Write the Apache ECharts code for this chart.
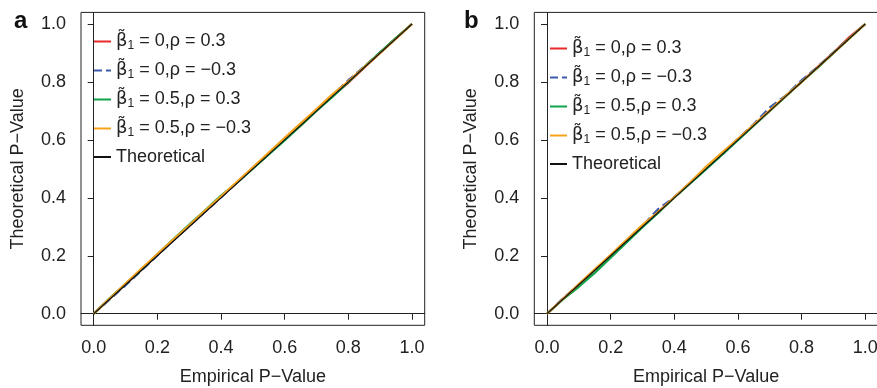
<!DOCTYPE html>
<html>
<head>
<meta charset="utf-8">
<script src="https://cdn.jsdelivr.net/npm/echarts@6/dist/echarts.min.js"></script>
<style>html,body{margin:0;padding:0;background:#fff;}#c{width:877px;height:388px;}</style>
</head>
<body>
<div id="c"></div>
<script>
// ---- data ----
var empiricalP = [0,0.05,0.10,0.15,0.20,0.25,0.30,0.35,0.40,0.45,0.50,0.55,0.60,0.65,0.70,0.75,0.80,0.85,0.90,0.95,1.00];
var tickValues = [0,0.2,0.4,0.6,0.8,1.0];
var panelLabels = ['a','b'];
var seriesNames = ['b0_p3','b0_m3','b5_p3','b5_m3','Theoretical'];
var legendLabels = ['{b|β̃}{s|1} = 0,ρ = 0.3','{b|β̃}{s|1} = 0,ρ = −0.3','{b|β̃}{s|1} = 0.5,ρ = 0.3','{b|β̃}{s|1} = 0.5,ρ = −0.3','Theoretical'];
// panel a
var a_b0_p3 = [0,0.052,0.101,0.152,0.203,0.254,0.303,0.353,0.404,0.452,0.502,0.551,0.603,0.649,0.701,0.752,0.797,0.849,0.901,0.951,1];
var a_b0_m3 = [0,0.049,0.098,0.149,0.201,0.253,0.302,0.352,0.401,0.453,0.503,0.552,0.602,0.651,0.702,0.754,0.806,0.853,0.902,0.950,1];
var a_b5_p3 = [0,0.053,0.103,0.152,0.205,0.257,0.308,0.357,0.408,0.452,0.501,0.550,0.598,0.649,0.700,0.748,0.799,0.852,0.902,0.952,1];
var a_b5_m3 = [0,0.052,0.104,0.156,0.206,0.256,0.305,0.356,0.405,0.455,0.505,0.556,0.607,0.657,0.706,0.757,0.802,0.851,0.899,0.949,1];
// panel b
var b_b0_p3 = [0,0.051,0.101,0.151,0.201,0.252,0.302,0.352,0.402,0.451,0.501,0.551,0.602,0.651,0.701,0.751,0.801,0.851,0.901,0.955,1];
var b_b0_m3 = [0,0.053,0.101,0.148,0.199,0.248,0.303,0.362,0.402,0.452,0.503,0.548,0.604,0.655,0.712,0.753,0.806,0.852,0.902,0.951,1];
var b_b5_p3 = [0,0.049,0.093,0.141,0.193,0.246,0.299,0.349,0.401,0.450,0.499,0.549,0.599,0.650,0.700,0.750,0.800,0.848,0.899,0.950,1];
var b_b5_m3 = [0,0.051,0.102,0.153,0.203,0.255,0.307,0.352,0.402,0.454,0.508,0.556,0.604,0.653,0.702,0.752,0.800,0.850,0.900,0.950,1];
var theoretical = [0,0.05,0.10,0.15,0.20,0.25,0.30,0.35,0.40,0.45,0.50,0.55,0.60,0.65,0.70,0.75,0.80,0.85,0.90,0.95,1.00];

var colors = ['#e8292b','#3b5bab','#0fa34a','#f7a21c','#111111'];
var widths = [2.2,2.2,2.2,2.2,1.2];
var types = ['solid','dashed','solid','solid','solid'];

var panelData = [
  [a_b0_p3,a_b0_m3,a_b5_p3,a_b5_m3,theoretical],
  [b_b0_p3,b_b0_m3,b_b5_p3,b_b5_m3,theoretical]
];

var FONT = '"Liberation Sans", Arial, "DejaVu Sans", sans-serif';
var TXT = '#222';
var FS = 18;

function pairs(xs, ys){ return xs.map(function(x,i){ return [x, ys[i]]; }); }

var gridLefts = [81, 534.3];
var grids = [], xAxes = [], yAxes = [], series = [], legends = [], titles = [];
var labelMap = {};
seriesNames.forEach(function(n,i){ labelMap[n] = legendLabels[i]; });

for (var p = 0; p < 2; p++) {
  grids.push({left: gridLefts[p], top: 12.4, width: 343.7, height: 312.9, show: true, borderColor: '#222', borderWidth: 1, backgroundColor: 'transparent', containLabel: false, outerBoundsMode: 'none'});
  xAxes.push({
    type: 'value', gridIndex: p, min: -0.04, max: 1.04,
    name: 'Empirical P\u2212Value', nameLocation: 'middle', nameGap: 43,
    nameTextStyle: {fontFamily: FONT, fontSize: FS, color: TXT},
    axisLine: {show: true, lineStyle: {color: '#222', width: 1}},
    axisTick: {show: true, length: 6, inside: false, customValues: tickValues, lineStyle: {color: '#222'}},
    axisLabel: {customValues: tickValues, margin: 14, fontFamily: FONT, fontSize: FS, color: TXT,
      formatter: function(v){ return v.toFixed(1); }},
    splitLine: {show: false}
  });
  yAxes.push({
    type: 'value', gridIndex: p, min: -0.04, max: 1.04,
    name: 'Theoretical P\u2212Value', nameLocation: 'middle', nameGap: 54,
    nameTextStyle: {fontFamily: FONT, fontSize: FS, color: TXT},
    axisLine: {show: true, lineStyle: {color: '#222', width: 1}},
    axisTick: {show: true, length: 6, inside: false, customValues: tickValues, lineStyle: {color: '#222'}},
    axisLabel: {customValues: tickValues, margin: 15, fontFamily: FONT, fontSize: FS, color: TXT,
      formatter: function(v){ return v.toFixed(1); }},
    splitLine: {show: false}
  });
  for (var s = 0; s < 5; s++) {
    series.push({
      type: 'line', name: seriesNames[s], xAxisIndex: p, yAxisIndex: p,
      data: pairs(empiricalP, panelData[p][s]),
      symbol: 'none', smooth: false, silent: true, animation: false,
      lineStyle: {color: colors[s], width: widths[s], type: types[s]},
      itemStyle: {color: colors[s]},
      z: 2 + s
    });
  }
  legends.push({
    show: true, orient: 'vertical', left: [93, 549][p], top: [31, 38][p], padding: 0,
    itemWidth: 17, itemHeight: 14, itemGap: 8,
    itemStyle: {opacity: 0},
    data: seriesNames.map(function(n){ return {name: n}; }),
    selectedMode: false,
    formatter: function(name){ return labelMap[name]; },
    textStyle: {fontFamily: FONT, fontSize: FS, color: TXT, lineHeight: 20,
      rich: {
        b: {fontFamily: '"DejaVu Sans", "Noto Sans", sans-serif', fontSize: FS, color: TXT, lineHeight: 20},
        s: {fontFamily: FONT, fontSize: 12, color: TXT, lineHeight: 20, padding: [9,0,0,0]}
      }}
  });
  titles.push({text: panelLabels[p], left: [9, 459][p], top: 4,
    textStyle: {fontFamily: FONT, fontSize: 24, fontWeight: 'bold', color: '#111'}});
}

var chart = echarts.init(document.getElementById('c'), null, {renderer: 'canvas'});
chart.setOption({
  animation: false,
  backgroundColor: '#fff',
  title: titles,
  grid: grids, xAxis: xAxes, yAxis: yAxes,
  legend: legends,
  series: series
});
</script>
</body>
</html>
